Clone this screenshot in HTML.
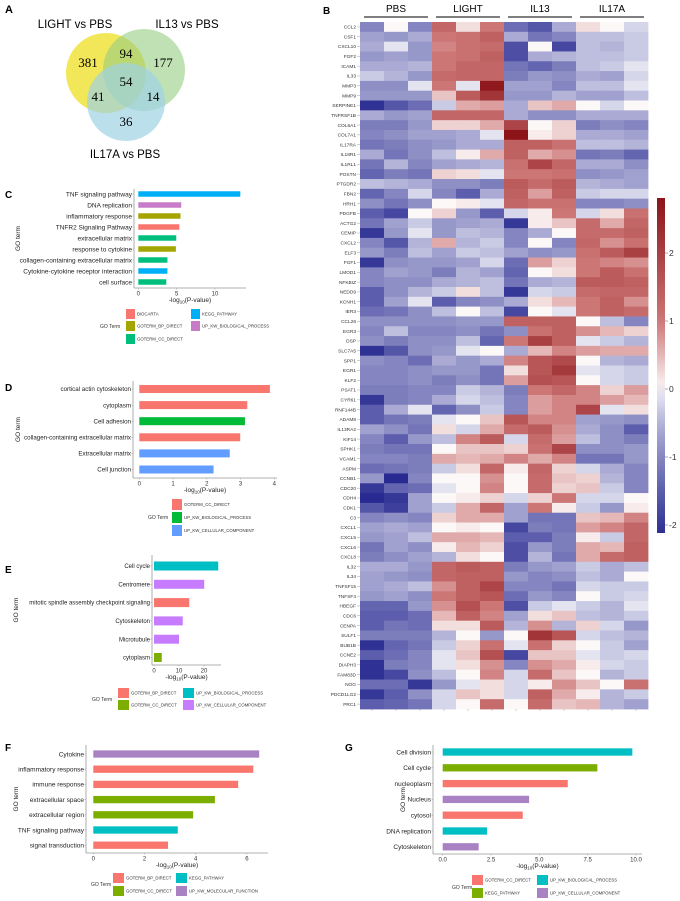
<!DOCTYPE html>
<html><head><meta charset="utf-8"><style>
html,body{margin:0;padding:0;background:#fff;}
svg{display:block;font-family:"Liberation Sans",Arial,sans-serif;}
</style></head><body>
<svg id="fig" width="680" height="901" viewBox="0 0 680 901" xmlns="http://www.w3.org/2000/svg">
<g>
<text x="5" y="13" font-size="11" font-weight="bold">A</text>
<circle cx="106" cy="73" r="40" fill="rgb(240,228,70)" fill-opacity="0.9"/>
<circle cx="144" cy="70" r="41" fill="rgb(150,205,130)" fill-opacity="0.6"/>
<circle cx="126" cy="102" r="39" fill="rgb(160,210,228)" fill-opacity="0.7"/>
<text x="75" y="28" font-size="11.5" text-anchor="middle">LIGHT vs PBS</text>
<text x="187" y="28" font-size="11.5" text-anchor="middle">IL13 vs PBS</text>
<text x="125" y="158" font-size="11.5" text-anchor="middle">IL17A vs PBS</text>
<g font-family="Liberation Serif,serif" font-size="13" text-anchor="middle">
<text x="88" y="67">381</text>
<text x="126" y="58">94</text>
<text x="163" y="67">177</text>
<text x="126" y="86">54</text>
<text x="98" y="101">41</text>
<text x="153" y="101">14</text>
<text x="126" y="126">36</text>
</g>
</g>
<g id="heat"></g>
<g id="bars"></g>
</svg>
<script>
const NS="http://www.w3.org/2000/svg";
// ---- Heatmap data ----
const genes=["CCL2","CSF1","CXCL10","FGF2","ICAM1","IL33","MMP3","MMP9","SERPINE1","TNFRSF1B","COL6A1","COL7A1","IL17RA","IL18R1","IL1RL1","POSTN","PTGDR2","FBN2","HRH1","PDGFB","ACTG2","CEMIP","CXCL2","ELF3","FGF1","LMOD1","NFKBIZ","NEDD9","KCNH1","IER3","CCL26","EGR3","DSP","SLC7A5","SPP1","EGR1","KLF2","PSAT1","CYR61","RNF144B","ADAM8","IL13RA2","KIF14","SPHK1","VCAM1","ASPM","CCNB1","CDC20","CDH4","CDK1","C3","CXCL1","CXCL5","CXCL6","CXCL8","IL32","IL34","TNFSF15","TNFSF4","HBEGF","CDC6","CENPA","SULF1","BUB1B","CCNE2","DIAPH3","FAM83D","NOG","PDCD1LG2","PRC1"];
const groups=["PBS","LIGHT","IL13","IL17A"];
const scaleTicks=[2,1,0,-1,-2];
const zscores=[
[-1,0,-1,1.3,0.2,1,-1.3,-1.6,-0.6,0.2,0,-0.2],
[-0.7,-0.8,-0.6,1,1.1,1.4,-0.6,-1.2,-1,-0.4,-0.4,-0.3],
[-0.6,-0.1,-0.8,0.9,1.1,1.2,-1.7,0,-1.8,-0.4,-0.5,-0.3],
[-0.8,-0.7,-0.8,1,1.1,1.4,-1.7,-0.6,-0.5,-0.4,-0.4,-0.3],
[-0.6,-0.6,-0.5,1,1.3,1.3,-1.2,-1.4,-1.1,-0.4,-0.3,-0.1],
[-0.3,-0.5,-0.8,1.2,1.3,1.3,-1.1,-0.8,-0.9,-0.6,-0.7,-0.2],
[-0.9,-0.9,-0.1,1,-0.1,2.7,-0.7,-0.7,-1,-0.4,-0.4,-0.1],
[-0.8,-0.8,-0.8,0.4,1.5,2.2,-0.8,-0.8,-0.5,-0.7,-0.7,-0.4],
[-2.1,-1.6,-1.3,-0.3,0.6,0.7,-0.6,0.4,0.6,0,-0.2,0],
[-0.6,-0.8,-0.7,1.3,1.3,1.3,-0.6,-0.9,-0.9,-0.6,-0.6,-0.6],
[-1.1,-1.1,-0.8,0.3,0.3,0.6,1.9,0,0.3,-1.1,-0.9,-1],
[-1,-0.9,-0.7,-0.7,-0.6,-0.1,2.8,0.1,0.3,-0.6,-0.6,-0.7],
[-1.2,-1.1,-0.9,-0.8,-0.6,-0.6,1.4,1.4,1.1,-0.4,-0.4,-0.5],
[-0.6,-1.2,-0.9,-0.4,0.1,0.6,1.4,0.6,0.8,-1.2,-1.1,-1.4],
[-1.2,-0.5,-1,-0.7,-0.6,-0.5,1.1,1.9,1.3,-0.6,-0.6,-0.9],
[-1.4,-1.1,-1.2,0.3,0.2,-0.1,1,1,1.1,-0.9,-0.8,-0.7],
[-0.4,-0.5,-0.6,-0.9,-0.9,-1.1,1.5,1.2,1.5,-0.5,-0.6,-0.7],
[-1.4,-1,-0.2,-1,-1.5,-0.6,1.4,0.7,1.4,-0.3,-0.2,-0.2],
[-0.9,-1.2,-0.9,0,0.1,-0.1,1.3,1.1,1.1,-1,-1,-0.9],
[-1.5,-1.8,0,0.3,-0.8,-1.5,-0.2,0.1,1,-0.2,0.2,1.1],
[-1.2,-0.7,-0.3,-0.8,-0.7,-0.6,-2,0.1,0.4,1.2,0.6,1.3],
[-2,-0.8,-0.1,-0.8,-0.4,-0.5,-1,-0.6,0,1.2,1.2,1.4],
[-1,-1.6,-0.5,0.6,-0.5,-0.3,-1,0,-1,1.3,0.8,1.1],
[-0.8,-1.1,-0.4,-0.7,-0.3,-0.4,-0.7,-0.9,-0.8,1.1,1.5,2],
[-2,-0.9,-0.8,-0.8,-0.7,-0.2,-1.3,0.7,0.3,1,0.9,0.8],
[-1,-0.7,-0.8,-1.1,-0.5,-0.7,-1.4,0,0.2,1,1.5,1.1],
[-1,-0.9,-0.9,-0.6,-0.5,-0.4,-1.2,-0.6,-0.5,1.5,1.5,1.4],
[-1.5,-0.9,-0.5,-0.3,0.2,-0.4,-2,-0.2,-0.3,1.2,1.3,1.3],
[-1.5,-0.7,-0.1,-1.5,-1,-0.9,-0.6,0.2,0.5,1,1.4,0.8],
[-1.3,-1.2,-0.9,-0.4,0,-0.4,-1.8,0,-0.1,1,1.4,1.2],
[-0.9,-0.9,-0.9,-0.9,-0.8,-0.8,1.4,1.4,1.4,0,-0.4,-1],
[-1,-0.4,-1,-1,-0.9,-1.2,-0.9,1.1,1.4,0.8,0.5,0.3],
[-0.9,-1.1,-0.9,-0.9,-0.4,-1.4,1,2,1.4,-0.1,-0.3,-0.5],
[-2.1,-1.6,-0.9,-0.8,-0.1,0,-0.6,0.5,0.9,0.7,0.6,0.6],
[-0.9,-1,-1.3,-0.6,-0.8,-0.6,0.9,1.6,1.8,0,-0.5,-0.6],
[-1,-1,-0.9,-0.8,-0.8,-1.2,0.2,1.6,2.1,-0.1,-0.2,-0.3],
[-1,-1,-0.9,-1.1,-0.9,-1.2,0.7,1.7,1.6,0,-0.2,-0.3],
[-1.1,-1.1,-1,-1,-0.3,-0.5,-1.1,1,1.3,0.9,0.3,0.7],
[-2,-1.1,-1,-0.6,-0.2,-0.4,-1,0.7,0.9,0.9,0.7,0.5],
[-1.5,-0.6,-0.1,-1.4,-0.9,-0.3,-1,0.7,0.9,1.9,-0.1,0.2],
[-1.5,-1.2,-1.1,-0.1,0,0.4,1.6,0.9,0.9,-0.7,-0.8,-0.9],
[-0.7,-0.9,-1.2,0.2,-0.2,0.6,1.2,1.5,0.8,-0.6,-0.9,-1.5],
[-1,-1.5,-0.8,-0.4,0.9,1.5,-0.2,1.2,0.7,-0.4,-0.9,-1.1],
[-1.1,-1.2,-1.2,0,0.4,0.4,0.3,1.1,1.9,-0.9,-0.9,-0.8],
[-1,-1,-1.1,0.6,0.5,0.6,0.9,0.6,0.9,-1.2,-1.2,-0.8],
[-1.3,-1.2,-1.1,-0.3,0.2,1.3,0.1,1.3,0.3,-0.2,-0.6,-1],
[-0.8,-2.2,-1,0,0,0.8,0,1.2,0.4,0.3,-0.5,-1],
[-2,-1.4,-1.3,-0.1,0,0.9,0,1.2,0.3,0.4,-0.3,-1],
[-2.3,-2,-0.7,0,0.1,0.3,-0.2,0.3,1,-0.2,-0.2,0],
[-1.6,-1.9,-0.7,-0.3,0.6,1.3,-0.7,1,0.1,-0.3,-0.8,0.1],
[-1,-0.9,-1,0.3,0.6,0.6,-0.7,-1.2,-1.2,0.4,0.5,0.9],
[-0.7,-0.6,-0.7,0,0.1,0,-1.8,-1.1,-1.2,0.7,0.9,1.3],
[-0.8,-0.7,-0.4,0.6,0.6,0.5,-1.5,-1.5,-1.1,0.1,-0.3,1.3],
[-1.2,-0.7,-0.9,0.1,0.5,0.3,-1.7,-0.8,-1.1,0.6,0.5,1.4],
[-1.1,-0.9,-0.7,-0.5,0.2,0,-1.7,-0.5,-1.2,0.6,1.2,1.4],
[-0.6,-0.6,-0.8,1.3,1.5,1.4,-1.1,-0.8,-0.7,-0.3,-0.6,-0.4],
[-0.7,-0.8,-0.9,1.3,1.4,1.4,-0.8,-1,-0.9,-0.4,-0.6,0],
[-0.7,-0.6,-0.4,0.8,1.4,1.9,-1,-1,-1.2,-0.2,-0.3,-0.3],
[-0.8,-0.7,-0.9,1,1.4,1.6,-1.3,-0.8,-1,0,-0.3,-0.2],
[-1.4,-1.4,-0.8,0.8,1.7,1,-1.7,-0.3,-0.1,-0.3,-0.5,-0.1],
[-1.5,-1.5,-1.3,0.5,1.4,0.9,-0.7,0.2,0.4,-0.4,-0.5,-0.3],
[-1.5,-1.2,-1.3,0.2,0.2,1.5,-0.5,0.8,-0.5,0.3,-0.2,-0.8],
[-1.1,-1.1,-1.1,-0.5,0,-0.8,0,2.2,1.6,-0.2,-0.4,-0.5],
[-2.1,-1.4,-1.2,-0.3,0.3,1.1,-0.1,1.1,0.3,0,-0.3,-0.7],
[-1.5,-1.3,-1,-0.1,0.4,1.7,-1.8,0.4,0.4,-0.1,-0.3,-0.2],
[-2.1,-1.1,-1,-0.1,0.2,0.8,-1,0.8,0.6,0.1,-0.2,-0.3],
[-2.1,-1.8,-0.9,-0.4,0,0.9,-0.2,1.2,0.4,0,-0.5,-0.3],
[-1.3,-1.3,-2,-0.8,-0.1,0.2,-0.2,0.1,0.8,0.4,0,1.1],
[-2,-1.5,-0.9,-0.2,0.4,0.2,-0.2,1.4,0.6,0.1,-0.5,-0.3],
[-1.5,-1.4,-1.2,-0.2,0,1.2,0,1.2,0.4,0.5,-0.5,-0.7]];

function mk(tag,attrs,parent,text){const e=document.createElementNS(NS,tag);for(const k in attrs)e.setAttribute(k,attrs[k]);if(text!==undefined)e.textContent=text;parent.appendChild(e);return e;}
function lerp(a,b,t){return a.map((v,i)=>Math.round(v+(b[i]-v)*t));}
function heatColor(v){
  if(v<0){const t=Math.pow(Math.min(1,-v/2.2),0.75);return "rgb("+lerp([248,248,252],[40,42,145],t).join(",")+")";}
  if(v<=1){return "rgb("+lerp([252,248,248],[205,118,118],v).join(",")+")";}
  const t=Math.min(1,(v-1)/1.8);return "rgb("+lerp([205,118,118],[140,20,25],t).join(",")+")";
}
const HX0=360,HX1=648,HY0=22,HY1=709;
const colW=(HX1-HX0)/12, rowH=(HY1-HY0)/genes.length;
function xCol(j){return HX0+j*colW;}
function yRow(i){return HY0+i*rowH;}
const heat=document.getElementById("heat");
let t=mk("text",{x:323,y:14,"font-size":10,"font-weight":"bold"},heat,"B");


groups.forEach((g,k)=>{
  const x0=xCol(k*3)+4,x1=xCol(k*3+3)-4;
  const tx=mk("text",{x:(x0+x1)/2,y:12,"font-size":10,"text-anchor":"middle"},heat,g);
  
  
  const ln=mk("line",{x1:x0,x2:x1,y1:17,y2:17,stroke:"#333","stroke-width":1.3},heat);
  
  
});
zscores.forEach((row,i)=>{
  row.forEach((v,j)=>{
    const r=mk("rect",{x:xCol(j).toFixed(2),y:yRow(i).toFixed(2),width:(colW+0.4).toFixed(2),height:(rowH+0.4).toFixed(2),fill:heatColor(v)},heat);
    
    
  });
  const gl=mk("text",{x:356,y:(yRow(i)+rowH/2+1.7).toFixed(2),"font-size":4.8,"text-anchor":"end",fill:"#333"},heat,genes[i]);
  
  
  mk("line",{x1:357,x2:360,y1:yRow(i)+rowH/2,y2:yRow(i)+rowH/2,stroke:"#888","stroke-width":0.4},heat);
});
for(let j=0;j<12;j++){mk("line",{x1:xCol(j)+colW/2,x2:xCol(j)+colW/2,y1:HY1,y2:HY1+2,stroke:"#888","stroke-width":0.4},heat);}
// colorbar
const CB0=198,CB1=533,cbZeroY=389,cbPer=68;
function yCb(v){return cbZeroY-v*cbPer;}
const defs=mk("defs",{},heat);
const grad=mk("linearGradient",{id:"cbg",x1:0,y1:0,x2:0,y2:1},defs);
for(let s=0;s<=20;s++){const y=CB0+(CB1-CB0)*s/20;const v=(cbZeroY-y)/cbPer;mk("stop",{offset:(s/20),"stop-color":heatColor(v)},grad);}
const cb=mk("rect",{x:657,y:CB0,width:8,height:CB1-CB0,fill:"url(#cbg)"},heat);


scaleTicks.forEach(v=>{
  mk("line",{x1:665,x2:668,y1:yCb(v),y2:yCb(v),stroke:"#555","stroke-width":0.5},heat);
  const tl=mk("text",{x:669,y:yCb(v)+3,"font-size":8.5,fill:"#333"},heat,v<0?"-"+(-v):String(v));
  
  
});

// ---- GO bar charts ----
const cTerms=["TNF signaling pathway","DNA replication","inflammatory response","TNFR2 Signaling Pathway","extracellular matrix","response to cytokine","collagen-containing extracellular matrix","Cytokine-cytokine receptor interaction","cell surface"];
const cValues=[13.3,5.6,5.5,5.35,4.95,4.9,3.8,3.8,3.65];
const cCats=["KEGG_PATHWAY","UP_KW_BIOLOGICAL_PROCESS","GOTERM_BP_DIRECT","BIOCARTA","GOTERM_CC_DIRECT","GOTERM_BP_DIRECT","GOTERM_CC_DIRECT","KEGG_PATHWAY","GOTERM_CC_DIRECT"];
const cTicks=[0,5,10];
const dTerms=["cortical actin cytoskeleton","cytoplasm","Cell adhesion","collagen-containing extracellular matrix","Extracellular matrix","Cell junction"];
const dValues=[3.87,3.2,3.13,2.99,2.68,2.2];
const dCats=["GOTERM_CC_DIRECT","GOTERM_CC_DIRECT","UP_KW_BIOLOGICAL_PROCESS","GOTERM_CC_DIRECT","UP_KW_CELLULAR_COMPONENT","UP_KW_CELLULAR_COMPONENT"];
const dTicks=[0,1,2,3,4];
const eTerms=["Cell cycle","Centromere","mitotic spindle assembly checkpoint signaling","Cytoskeleton","Microtubule","cytoplasm"];
const eValues=[25.7,20.1,14.1,11.5,10,3.1];
const eCats=["UP_KW_BIOLOGICAL_PROCESS","UP_KW_CELLULAR_COMPONENT","GOTERM_BP_DIRECT","UP_KW_CELLULAR_COMPONENT","UP_KW_CELLULAR_COMPONENT","GOTERM_CC_DIRECT"];
const eTicks=[0,10,20];
const fTerms=["Cytokine","inflammatory response","immune response","extracellular space","extracellular region","TNF signaling pathway","signal transduction"];
const fValues=[6.48,6.25,5.66,4.75,3.9,3.3,2.92];
const fCats=["UP_KW_MOLECULAR_FUNCTION","GOTERM_BP_DIRECT","GOTERM_BP_DIRECT","GOTERM_CC_DIRECT","GOTERM_CC_DIRECT","KEGG_PATHWAY","GOTERM_BP_DIRECT"];
const fTicks=[0,2,4,6];
const gTerms=["Cell division","Cell cycle","nucleoplasm","Nucleus","cytosol","DNA replication","Cytoskeleton"];
const gValues=[9.81,8.0,6.47,4.47,4.14,2.29,1.86];
const gCats=["UP_KW_BIOLOGICAL_PROCESS","KEGG_PATHWAY","GOTERM_CC_DIRECT","UP_KW_CELLULAR_COMPONENT","GOTERM_CC_DIRECT","UP_KW_BIOLOGICAL_PROCESS","UP_KW_CELLULAR_COMPONENT"];
const gTicks=["0.0","2.5","5.0","7.5","10.0"];

const bars=document.getElementById("bars");
function chart(o){
  const g=mk("g",{},bars);
  
  
  const xs=v=>o.x0+v*o.ppu;
  const ys=i=>o.yFirst+i*o.step;
  const fs=o.fs||6.5;
  const pl=mk("text",{x:o.lx,y:o.ly,"font-size":10,"font-weight":"bold"},g,o.id.toUpperCase());
  
  
  mk("line",{x1:o.axX,x2:o.axX,y1:o.yTop,y2:o.axY,stroke:"#999","stroke-width":0.8},g);
  mk("line",{x1:o.axX,x2:o.xEnd,y1:o.axY,y2:o.axY,stroke:"#999","stroke-width":0.8},g);
  o.terms.forEach((term,i)=>{
    const b=mk("rect",{x:xs(0),y:ys(i)-o.bh/2,width:Math.max(0,xs(o.values[i])-xs(0)),height:o.bh,fill:o.colors[o.cats[i]]},g);
    
    
    const tl=mk("text",{x:o.axX-2,y:ys(i)+fs*0.35,"font-size":fs,"text-anchor":"end",fill:"#222"},g,term);
    
    
    mk("line",{x1:o.axX-1.5,x2:o.axX,y1:ys(i),y2:ys(i),stroke:"#999","stroke-width":0.5},g);
  });
  o.ticks.forEach(tk=>{
    const v=parseFloat(tk);
    mk("line",{x1:xs(v),x2:xs(v),y1:o.axY,y2:o.axY+1.5,stroke:"#999","stroke-width":0.5},g);
    const tt=mk("text",{x:xs(v),y:o.axY+7.5,"font-size":6,"text-anchor":"middle",fill:"#333"},g,String(tk));
    
    
  });
  const xl=mk("text",{x:(o.axX+o.xEnd)/2,y:o.axY+14,"font-size":6.5,"text-anchor":"middle",fill:"#222"},g);
  
  
  xl.appendChild(document.createTextNode("-log"));
  mk("tspan",{"font-size":4.5,dy:1.5},xl,"10");
  mk("tspan",{dy:-1.5},xl,"(P-value)");
  const yl=mk("text",{x:0,y:0,"font-size":6.5,"text-anchor":"middle",fill:"#222",transform:"translate("+o.ytx+","+((o.yTop+o.axY)/2)+") rotate(-90)"},g,"GO term");
  
  
  const lg=mk("g",{},g);
  
  
  const gt=mk("text",{x:o.legTitleX,y:o.legTitleY,"font-size":5,fill:"#333"},lg,"GO Term");
  
  
  o.legend.forEach(L=>{
    const sw=mk("rect",{x:L[1],y:L[2],width:o.sw,height:o.sh,fill:o.colors[L[0]]},lg);
    
    
    const lt=mk("text",{x:L[1]+o.sw+2,y:L[2]+o.sh/2+1.6,"font-size":4.3,fill:"#333"},lg,L[0]);
    
    
  });
}
const C5={BIOCARTA:"#F8766D",GOTERM_BP_DIRECT:"#A3A500",GOTERM_CC_DIRECT:"#00BF7D",KEGG_PATHWAY:"#00B0F6",UP_KW_BIOLOGICAL_PROCESS:"#C77CC8"};
const C3={GOTERM_CC_DIRECT:"#F8766D",UP_KW_BIOLOGICAL_PROCESS:"#00BA38",UP_KW_CELLULAR_COMPONENT:"#619CFF"};
const CE={GOTERM_BP_DIRECT:"#F8766D",GOTERM_CC_DIRECT:"#7CAE00",UP_KW_BIOLOGICAL_PROCESS:"#00BFC4",UP_KW_CELLULAR_COMPONENT:"#C77CFF"};
const CF={GOTERM_BP_DIRECT:"#F8766D",GOTERM_CC_DIRECT:"#7CAE00",KEGG_PATHWAY:"#00BFC4",UP_KW_MOLECULAR_FUNCTION:"#A982C4"};
const CG={GOTERM_CC_DIRECT:"#F8766D",KEGG_PATHWAY:"#7CAE00",UP_KW_BIOLOGICAL_PROCESS:"#00BFC4",UP_KW_CELLULAR_COMPONENT:"#A982C4"};
chart({id:"c",terms:cTerms,values:cValues,cats:cCats,ticks:cTicks,colors:C5,x0:138.3,ppu:7.67,yFirst:194,step:11,bh:5.5,axX:134,axY:288,xEnd:246,yTop:189,lx:5,ly:198,ytx:20,
  legTitleX:100,legTitleY:328,sw:9,sh:10,legend:[["BIOCARTA",126,309],["GOTERM_BP_DIRECT",126,321],["GOTERM_CC_DIRECT",126,334],["KEGG_PATHWAY",191,309],["UP_KW_BIOLOGICAL_PROCESS",191,321]]});
chart({id:"d",fs:6.2,terms:dTerms,values:dValues,cats:dCats,ticks:dTicks,colors:C3,x0:139.3,ppu:33.75,yFirst:389,step:16.1,bh:8,axX:133,axY:478,xEnd:277,yTop:381,lx:5,ly:391,ytx:20,
  legTitleX:148,legTitleY:519,sw:10,sh:11,legend:[["GOTERM_CC_DIRECT",172,499],["UP_KW_BIOLOGICAL_PROCESS",172,512],["UP_KW_CELLULAR_COMPONENT",172,525]]});
chart({id:"e",fs:6,terms:eTerms,values:eValues,cats:eCats,ticks:eTicks,colors:CE,x0:154,ppu:2.5,yFirst:566,step:18.3,bh:9,axX:152,axY:665,xEnd:221,yTop:555,lx:5,ly:573,ytx:18,
  legTitleX:92,legTitleY:701,sw:11,sh:10,legend:[["GOTERM_BP_DIRECT",118,688],["GOTERM_CC_DIRECT",118,700],["UP_KW_BIOLOGICAL_PROCESS",183,688],["UP_KW_CELLULAR_COMPONENT",183,700]]});
chart({id:"f",terms:fTerms,values:fValues,cats:fCats,ticks:fTicks,colors:CF,x0:93.3,ppu:25.6,yFirst:754,step:15.2,bh:7.3,axX:86,axY:853,xEnd:268,yTop:745,lx:5,ly:751,ytx:18,
  legTitleX:91,legTitleY:886,sw:11,sh:10,legend:[["GOTERM_BP_DIRECT",113,873],["GOTERM_CC_DIRECT",113,886],["KEGG_PATHWAY",176,873],["UP_KW_MOLECULAR_FUNCTION",176,886]]});
chart({id:"g",terms:gTerms,values:gValues,cats:gCats,ticks:gTicks,colors:CG,x0:442.7,ppu:19.33,yFirst:752,step:15.8,bh:7.3,axX:433,axY:854,xEnd:642,yTop:745,lx:345,ly:751,ytx:405,
  legTitleX:452,legTitleY:889,sw:11,sh:10,legend:[["GOTERM_CC_DIRECT",472,875],["KEGG_PATHWAY",472,888],["UP_KW_BIOLOGICAL_PROCESS",537,875],["UP_KW_CELLULAR_COMPONENT",537,888]]});
</script>
</body></html>
